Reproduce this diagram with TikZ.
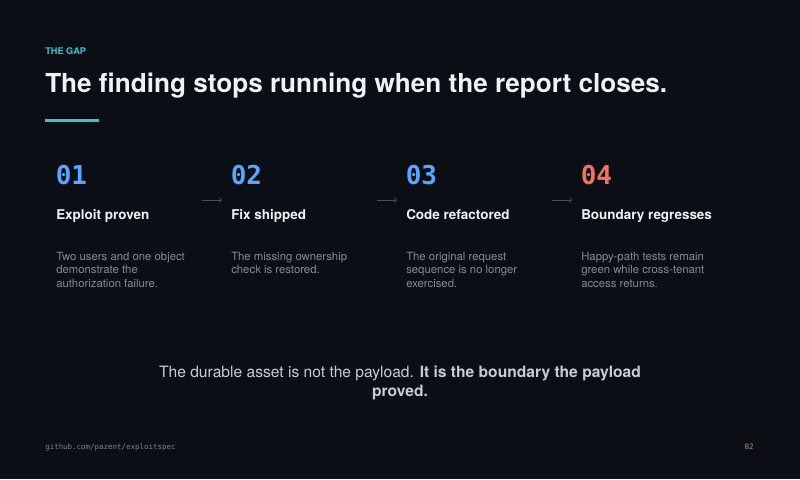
\documentclass[tikz,border=0pt]{standalone}
\usepackage{fontspec}
\setmainfont{TeX Gyre Heros}
\setmonofont{DejaVu Sans Mono}

\definecolor{slidebg}{HTML}{0B0E14}
\definecolor{gapteal}{HTML}{39C5CF}
\definecolor{titlewhite}{HTML}{F0F3F6}
\definecolor{numblue}{HTML}{58A6FF}
\definecolor{numred}{HTML}{F47067}
\definecolor{descgray}{HTML}{868B93}
\definecolor{arrowgray}{HTML}{484F58}
\definecolor{closegray}{HTML}{C9CDD3}
\definecolor{footgray}{HTML}{7D838C}
\definecolor{pagegold}{HTML}{BB9A4E}

\tikzset{
    stepnum/.style={anchor=base west, inner sep=0pt, text=numblue, font=\ttfamily\bfseries\fontsize{19.5}{22}\selectfont},
    stephead/.style={anchor=base west, inner sep=0pt, text=titlewhite, font=\bfseries\fontsize{10.1}{12}\selectfont},
    stepdesc/.style={anchor=base west, inner sep=0pt, align=left, text=descgray, font=\fontsize{8.5}{10}\selectfont},
    steparrow/.style={->, draw=arrowgray, line width=0.6pt},
}

\begin{document}
\begin{tikzpicture}[x=0.75pt,y=-0.75pt]

        \fill[slidebg] (0,0) rectangle (800,479);
        \useasboundingbox (0,0) rectangle (800,479);

        %header
        \node[anchor=base west, inner sep=0pt, text=gapteal, font=\bfseries\fontsize{6.9}{8}\selectfont] (gap) at (45,54) {THE GAP};
        \node[anchor=base west, inner sep=0pt, text=titlewhite, font=\bfseries\fontsize{19.6}{22}\selectfont] (title) at (45,92.5) {The finding stops running when the report closes.};
        \draw[gapteal, line width=2.2pt] (45,120.5) -- (99,120.5);

        %step 1 (base of a multi-line node = its last line)
        \node[stepnum] (num1) at (55.5,184) {01};
        \node[stephead] (head1) at (56,219) {Exploit proven};
        \node[stepdesc] (desc1) at (56,287) {Two users and one object\\demonstrate the\\authorization failure.};

        %step 2
        \node[stepnum] (num2) at (230.5,184) {02};
        \node[stephead] (head2) at (231,219) {Fix shipped};
        \node[stepdesc] (desc2) at (231,273.5) {The missing ownership\\check is restored.};

        %step 3
        \node[stepnum] (num3) at (405.5,184) {03};
        \node[stephead] (head3) at (406,219) {Code refactored};
        \node[stepdesc] (desc3) at (406,287) {The original request\\sequence is no longer\\exercised.};

        %step 4
        \node[stepnum, text=numred] (num4) at (580.5,184) {04};
        \node[stephead] (head4) at (581,219) {Boundary regresses};
        \node[stepdesc] (desc4) at (581,287) {Happy-path tests remain\\green while cross-tenant\\access returns.};

        %arrows between steps
        \coordinate (arr1a) at (202,200);
        \coordinate (arr1b) at (222,200);
        \coordinate (arr2a) at (377,200);
        \coordinate (arr2b) at (397,200);
        \coordinate (arr3a) at (552,200);
        \coordinate (arr3b) at (572,200);
        \draw[steparrow] (arr1a) -- (arr1b);
        \draw[steparrow] (arr2a) -- (arr2b);
        \draw[steparrow] (arr3a) -- (arr3b);

        %closing line
        \node[anchor=base, inner sep=0pt, align=center, text=closegray, font=\fontsize{11.7}{14}\selectfont] (closing) at (400,396)
            {The durable asset is not the payload. \textbf{It is the boundary the payload}\\\textbf{proved.}};

        %footer
        \node[anchor=base west, inner sep=0pt, text=footgray, font=\ttfamily\fontsize{5.6}{7}\selectfont] (repo) at (45,449) {github.com/pazent/exploitspec};
        \node[anchor=base east, inner sep=0pt, text=pagegold, font=\ttfamily\fontsize{5.6}{7}\selectfont] (page) at (754,449) {02};

\end{tikzpicture}
\end{document}
